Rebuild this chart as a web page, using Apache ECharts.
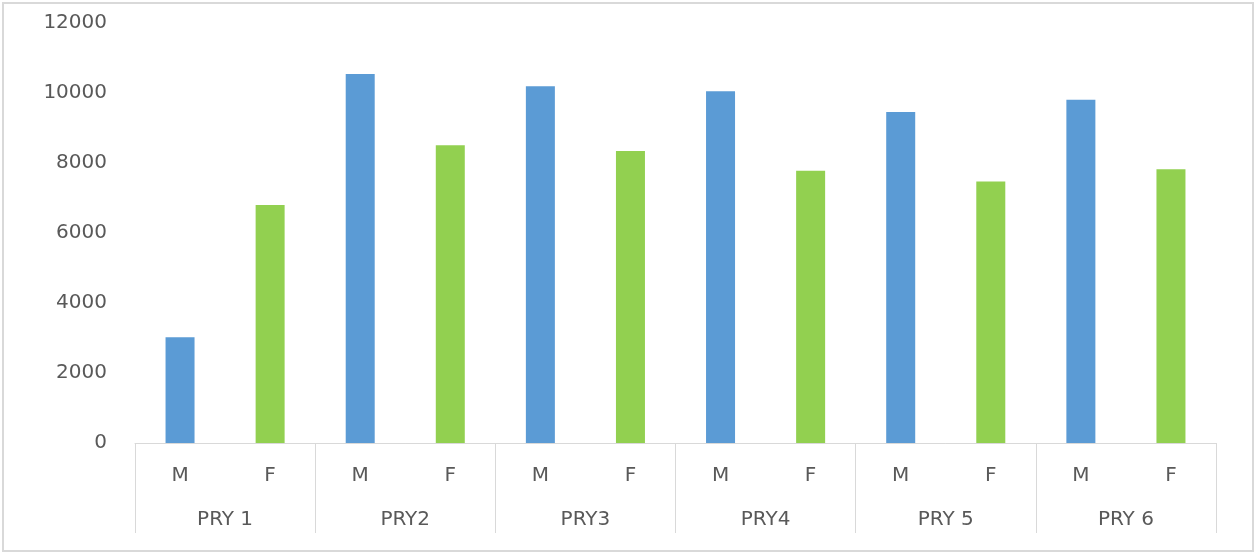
<!DOCTYPE html>
<html>
<head>
<meta charset="utf-8">
<script src="https://cdn.jsdelivr.net/npm/echarts@6/dist/echarts.min.js"></script>
<style>
    html, body { margin: 0; padding: 0; background: #fff; }
    #chart { width: 1256px; height: 553px; }
</style>
</head>
<body>
<div id="chart"></div>
<script>
    // 数据
    const groups = ["PRY 1", "PRY2", "PRY3", "PRY4", "PRY 5", "PRY 6"]
    const genders = ["M", "F"]
    const maleValues = [3020, 10540, 10190, 10050, 9460, 9810]
    const femaleValues = [6800, 8510, 8340, 7780, 7470, 7820]
    const yTicks = [0, 2000, 4000, 6000, 8000, 10000, 12000]

    // 12 个小类 M F M F ...
    const subCats = []
    const maleData = []
    const femaleData = []
    groups.forEach((g, i) => {
        subCats.push(genders[0], genders[1])
        maleData.push(maleValues[i], "-")
        femaleData.push("-", femaleValues[i])
    })

    const labelColor = "#595959"
    const lineColor = "#d9d9d9"
    const fontFamily = "DejaVu Sans"

    const chart = echarts.init(document.getElementById("chart"))
    const options = {
        animation: false,
        grid: {
            left: 135,
            right: 40,
            top: 23,
            bottom: 110,
        },
        graphic: [
            {
                type: "rect",
                shape: { x: 3, y: 3, width: 1250, height: 548 },
                style: { fill: "none", stroke: lineColor, lineWidth: 2 },
                silent: true,
            },
        ],
        xAxis: [
            {
                type: "category",
                data: subCats,
                axisLine: { show: true, lineStyle: { color: lineColor, width: 1 } },
                axisTick: { show: false },
                axisLabel: {
                    color: labelColor,
                    fontSize: 20,
                    fontFamily: fontFamily,
                    margin: 23,
                    interval: 0,
                },
            },
            {
                type: "category",
                data: groups,
                position: "bottom",
                axisLine: { show: false },
                axisTick: {
                    show: true,
                    length: 90,
                    lineStyle: { color: lineColor, width: 1 },
                },
                axisLabel: {
                    color: labelColor,
                    fontSize: 20,
                    fontFamily: fontFamily,
                    margin: 67,
                    interval: 0,
                },
            },
        ],
        yAxis: {
            type: "value",
            min: yTicks[0],
            max: yTicks[yTicks.length - 1],
            interval: 2000,
            axisLine: { show: false },
            axisTick: { show: false },
            splitLine: { show: false },
            axisLabel: {
                color: labelColor,
                fontSize: 20,
                fontFamily: fontFamily,
                margin: 28,
                formatter: (v) => String(v),
            },
        },
        series: [
            {
                name: "M",
                type: "bar",
                xAxisIndex: 0,
                data: maleData,
                barWidth: 29,
                barGap: "-100%",
                itemStyle: { color: "#5b9bd5" },
            },
            {
                name: "F",
                type: "bar",
                xAxisIndex: 0,
                data: femaleData,
                barWidth: 29,
                barGap: "-100%",
                itemStyle: { color: "#92d050" },
            },
        ],
    }
    chart.setOption(options)
</script>
</body>
</html>
